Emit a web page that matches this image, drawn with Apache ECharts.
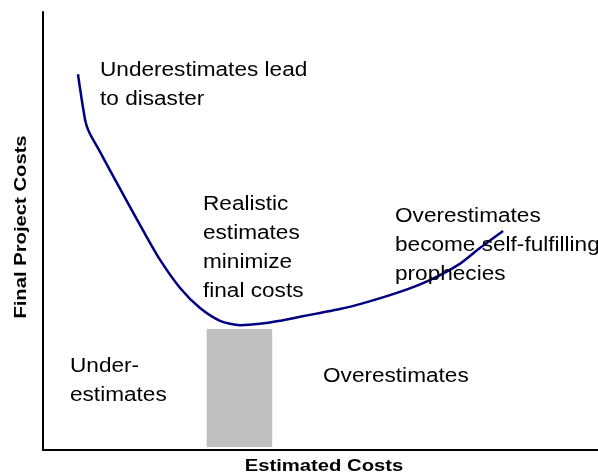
<!DOCTYPE html>
<html>
<head>
<meta charset="utf-8">
<script src="https://cdn.jsdelivr.net/npm/echarts@6/dist/echarts.min.js"></script>
<style>
html,body{margin:0;padding:0;background:#fff;}
#chart{width:598px;height:474px;}
</style>
</head>
<body>
<div id="chart"></div>
<script>
//成本曲线数据
var estX = [6.3, 7.6, 8.3, 10.3, 13.9, 18.0, 21.1, 24.7, 28.3, 31.9, 35.5, 39.1, 42.7, 46.3, 49.9, 53.5, 57.1, 64.3, 69.7, 75.1, 78.7, 82.9];
var finalY = [85.8, 75.3, 72.6, 68.0, 59.6, 50.2, 43.4, 37.0, 32.4, 29.5, 28.5, 28.8, 29.5, 30.4, 31.3, 32.2, 33.3, 36.1, 38.8, 42.5, 46.1, 50.0];
//灰色区域 (x起, y起, x止, y止)
var realisticBox = [29.5, 0.7, 41.3, 27.6];

(function(){

var chart = echarts.init(document.getElementById("chart"));

var pts = [];
for (var i = 0; i < estX.length; i++) {
    pts.push([estX[i], finalY[i]]);
}

var txtFont = '"Liberation Sans", Arial, sans-serif';
function note(x, y, str){
    return {
        type: 'text',
        x: x,
        y: y,
        scaleX: 1.13,
        style: {
            text: str,
            font: '20px ' + txtFont,
            lineHeight: 29,
            fill: '#000',
            verticalAlign: 'top'
        },
        z: 10
    };
}

option = {
    animation: false,
    grid: {
        left: 43,
        right: 0,
        top: 12,
        bottom: 24
    },
    xAxis: {
        type: 'value',
        min: 0,
        max: 100,
        axisLine: {show: true, lineStyle: {color: '#000', width: 2}},
        axisTick: {show: false},
        axisLabel: {show: false},
        splitLine: {show: false}
    },
    yAxis: {
        type: 'value',
        min: 0,
        max: 100,
        axisLine: {show: true, lineStyle: {color: '#000', width: 2}},
        axisTick: {show: false},
        axisLabel: {show: false},
        splitLine: {show: false}
    },
    series: [
        {
            type: 'line',
            data: pts,
            smooth: 0.25,
            showSymbol: false,
            lineStyle: {color: '#000080', width: 2.5},
            markArea: {
                silent: true,
                itemStyle: {color: '#c0c0c0', opacity: 1},
                data: [[
                    {coord: [realisticBox[0], realisticBox[1]]},
                    {coord: [realisticBox[2], realisticBox[3]]}
                ]]
            },
            z: 3
        }
    ],
    graphic: [
        note(100, 56, 'Underestimates lead\nto disaster'),
        note(203, 190, 'Realistic\nestimates\nminimize\nfinal costs'),
        note(395, 202, 'Overestimates\nbecome self-fulfilling\nprophecies'),
        note(70, 352, 'Under-\nestimates'),
        note(323, 362, 'Overestimates'),
        {
            type: 'text',
            x: 324,
            y: 466,
            scaleX: 1.19,
            style: {
                text: 'Estimated Costs',
                font: 'bold 17px ' + txtFont,
                fill: '#000',
                align: 'center',
                verticalAlign: 'middle'
            }
        },
        {
            type: 'text',
            x: 21,
            y: 227,
            rotation: Math.PI / 2,
            scaleX: 1.19,
            style: {
                text: 'Final Project Costs',
                font: 'bold 17px ' + txtFont,
                fill: '#000',
                align: 'center',
                verticalAlign: 'middle'
            }
        }
    ]
};

chart.setOption(option);
})();
</script>
</body>
</html>
